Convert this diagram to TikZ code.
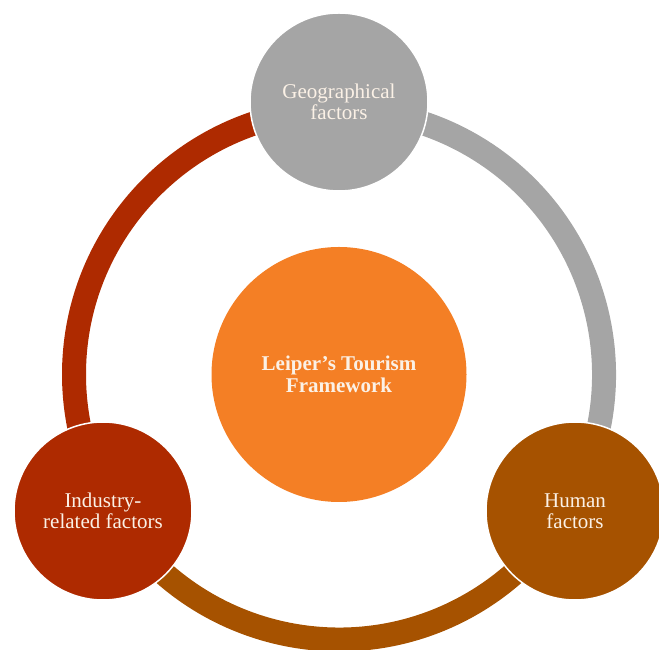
\documentclass[tikz,border=0pt]{standalone}
\usepackage{fontspec}
\setmainfont{Liberation Serif}
\definecolor{geogray}{HTML}{A5A5A5}
\definecolor{indred}{HTML}{AE2A00}
\definecolor{humbrown}{HTML}{A65200}
\definecolor{coreorange}{HTML}{F47F25}
\definecolor{txtcream}{HTML}{FBF1E6}
\tikzset{
  factor/.style={circle, minimum size=178pt, inner sep=0pt, draw=white, line width=1.5pt,
    text=txtcream, align=center, font=\fontsize{21}{21}\selectfont},
  core/.style={circle, minimum size=255pt, inner sep=0pt, fill=coreorange,
    text=txtcream, align=center, font=\fontsize{21}{21.5}\selectfont\bfseries},
  ringarc/.style={line width=24pt, line cap=butt}
}
\begin{document}
\begin{tikzpicture}[x=1pt,y=1pt]
\useasboundingbox (0,0) rectangle (659,650);
\coordinate (rc) at (339,275.5);
% ring segments
\draw[ringarc, indred] (rc) ++(90:265) arc[start angle=90, end angle=210, radius=265];
\draw[ringarc, geogray] (rc) ++(-30:265) arc[start angle=-30, end angle=90, radius=265];
\draw[ringarc, humbrown] (rc) ++(210:265) arc[start angle=210, end angle=330, radius=265];
% central circle
\node[core] (core) at (339,275.5) {Leiper’s Tourism\\Framework};
% factor circles
\node[factor, fill=geogray] (geo) at (339,548) {Geographical\\factors};
\node[factor, fill=indred] (ind) at (103,139) {Industry-\\related factors};
\node[factor, fill=humbrown] (hum) at (575,139) {Human\\factors};
\end{tikzpicture}
\end{document}
